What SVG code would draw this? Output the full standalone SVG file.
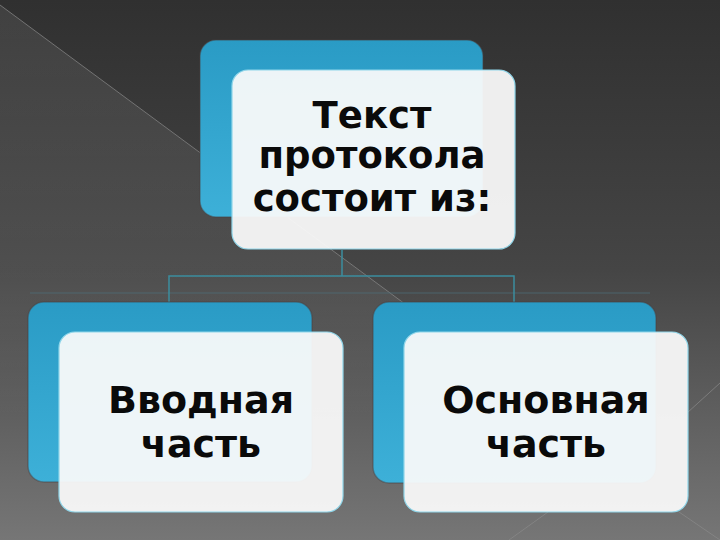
<svg xmlns="http://www.w3.org/2000/svg" width="720" height="540" viewBox="0 0 720 540">
<defs>
<linearGradient id="bg" x1="0" y1="0" x2="0" y2="1">
<stop offset="0" stop-color="#303030"/>
<stop offset="0.5" stop-color="#454545"/>
<stop offset="1" stop-color="#767676"/>
</linearGradient>
<linearGradient id="blue" x1="0" y1="0" x2="0" y2="1">
<stop offset="0" stop-color="#2a9bc5"/>
<stop offset="1" stop-color="#3db0d8"/>
</linearGradient>
<linearGradient id="shade" gradientUnits="userSpaceOnUse" x1="0" y1="0" x2="0" y2="420">
<stop offset="0" stop-color="#ffffff" stop-opacity="0.08"/>
<stop offset="0.7" stop-color="#ffffff" stop-opacity="0.05"/>
<stop offset="1" stop-color="#ffffff" stop-opacity="0"/>
</linearGradient>
<style>
.back{fill:url(#blue);stroke:#4a4040;stroke-opacity:0.45;stroke-width:1.5}
.front{fill:#fafafa;fill-opacity:0.94;stroke:#8fd6ea;stroke-width:1.2}
.lbl{font-family:"DejaVu Sans","Liberation Sans",sans-serif;font-weight:bold;fill:#0a0a0a;text-anchor:middle}
.conn{fill:none;stroke:#3b8d9e;stroke-width:1.5}
.deco{stroke:#8a8a8a;stroke-opacity:0.7;stroke-width:1;fill:none}
</style>
</defs>
<rect width="720" height="540" fill="url(#bg)"/>
<polygon points="0,5 720,537 720,540 0,540" fill="url(#shade)"/>
<line class="deco" x1="0" y1="5" x2="405" y2="304"/>
<line class="deco" x1="509" y1="540" x2="548" y2="512"/>
<line class="deco" x1="679" y1="512" x2="720" y2="540"/>
<line class="deco" x1="687" y1="413" x2="720" y2="383"/>
<line x1="30" y1="293" x2="650" y2="293" stroke="#4e6d78" stroke-opacity="0.5" stroke-width="1.5"/>
<g id="connectors">
<path class="conn" d="M342,250 V276 M169,302 V276 H514 V302"/>
</g>
<g id="node-top">
<rect class="back" x="200" y="40" width="283" height="177" rx="16"/>
<rect class="front" x="232" y="70" width="283" height="179" rx="16"/>
<text class="lbl" font-size="37"><tspan x="372" y="128">Текст</tspan><tspan x="372" y="168">протокола</tspan><tspan x="372" y="211">состоит из:</tspan></text>
</g>
<g id="node-left">
<rect class="back" x="28" y="302" width="284" height="180" rx="16"/>
<rect class="front" x="59" y="332" width="284" height="180" rx="16"/>
<text class="lbl" font-size="38"><tspan x="201" y="413">Вводная</tspan><tspan x="201" y="457">часть</tspan></text>
</g>
<g id="node-right">
<rect class="back" x="373" y="302" width="283" height="181" rx="16"/>
<rect class="front" x="404" y="332" width="284" height="180" rx="16"/>
<text class="lbl" font-size="38"><tspan x="546" y="413">Основная</tspan><tspan x="546" y="457">часть</tspan></text>
</g>
</svg>
